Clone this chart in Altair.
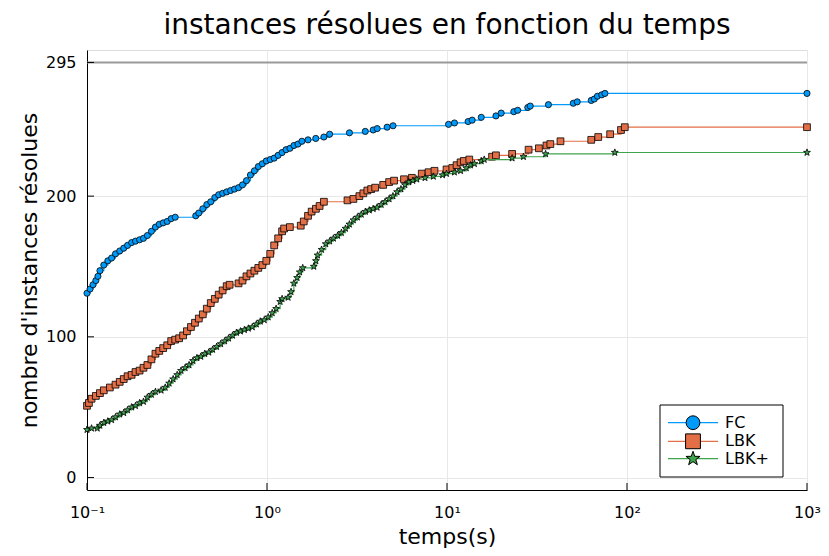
import altair as alt
import pandas as pd

# ---------------- data ----------------
series = ["FC", "LBK", "LBK+"]
colors = ["#009AFA", "#E36F47", "#3EA44E"]
STAR = ("M0,-1L0.235,-0.324L0.951,-0.309L0.380,0.124L0.588,0.809L0,0.4"
        "L-0.588,0.809L-0.380,0.124L-0.951,-0.309L-0.235,-0.324Z")
shapes = ["circle", "square", STAR]

fc_t = [0.100, 0.104, 0.108, 0.112, 0.115, 0.118, 0.124, 0.1305, 0.137, 0.144, 0.152, 0.160, 0.168,
        0.177, 0.186, 0.196, 0.206, 0.2165, 0.228, 0.240, 0.252, 0.265, 0.279, 0.2935, 0.309,
        0.402, 0.418, 0.440, 0.463, 0.487, 0.513, 0.539, 0.567, 0.597, 0.628, 0.6605, 0.695,
        0.731, 0.769, 0.809, 0.851, 0.895, 0.942, 0.991, 1.042, 1.096, 1.153, 1.213, 1.276,
        1.342, 1.412, 1.486, 1.563, 1.69, 1.866, 2.07, 2.228, 2.871, 3.516, 3.891, 4.094, 4.65,
        5.014, 10.2, 11.0, 13.1, 13.8, 15.5, 18.7, 20.0, 23.5, 24.7, 28.1, 29.0, 36.6, 50.3,
        52.9, 63.3, 65.8, 68.5, 72.4, 75.4, 1000]
fc_n = [131, 134, 137, 140, 143, 147, 151, 154, 156, 159, 161, 163, 165,
        167, 168, 169, 170, 172, 175, 178, 180, 181, 182, 184, 185,
        186, 188, 191, 194, 196, 199, 201, 202, 203, 204, 205, 206,
        208, 211, 215, 218, 221, 223, 225, 226, 227, 229, 231, 233,
        234, 236, 237, 239, 240, 241, 242, 244, 245, 246, 247, 248, 249,
        250, 251, 252, 253, 254, 256, 257, 259, 260, 261, 263, 264, 265, 266,
        267, 268, 269, 271, 272, 273, 273]

lbk_t = [0.100, 0.1025, 0.106, 0.112, 0.118, 0.124, 0.134, 0.144, 0.152, 0.160, 0.168, 0.177,
         0.186, 0.196, 0.206, 0.2165, 0.228, 0.240, 0.252, 0.265, 0.279, 0.2935, 0.309, 0.325,
         0.342, 0.359, 0.378, 0.398, 0.418, 0.440, 0.463, 0.487, 0.513, 0.539, 0.567, 0.597,
         0.62, 0.695, 0.731, 0.769, 0.809, 0.851, 0.895, 0.942, 0.991, 1.042, 1.096, 1.153,
         1.213, 1.245, 1.34, 1.54, 1.60, 1.69, 1.77, 1.87, 1.96, 2.07, 2.80, 3.02, 3.26, 3.43,
         3.61, 3.79, 3.99, 4.42, 4.77, 5.08, 5.77, 6.38, 7.24, 7.90, 8.52, 9.94, 10.7, 11.3,
         11.9, 12.4, 13.3, 17.8, 18.7, 23.0, 28.4, 32.4, 35.7, 37.5, 42.7, 63.3, 69.2, 80.6,
         92.6, 97.2, 1000]
lbk_n = [51, 53, 56, 58, 60, 62, 64, 66, 68, 70, 72, 73,
         75, 76, 78, 80, 84, 88, 90, 92, 94, 97, 98, 99,
         101, 104, 107, 110, 113, 116, 120, 124, 127, 130, 133, 136,
         137, 138, 140, 143, 145, 147, 149, 151, 154, 159, 165, 170,
         175, 177, 178, 179, 182, 186, 189, 191, 193, 196, 197, 198, 200, 202,
         204, 205, 206, 208, 210, 211, 212, 213, 216, 217, 218, 219, 220, 222,
         224, 225, 226, 228, 229, 230, 233, 234, 236, 237, 239, 240, 242, 244,
         247, 249, 249]

lbkp_t = [0.100, 0.106, 0.114, 0.118, 0.124, 0.1305, 0.137, 0.144, 0.152, 0.160, 0.168, 0.177,
          0.186, 0.196, 0.206, 0.2165, 0.228, 0.240, 0.258, 0.272, 0.286, 0.301, 0.317, 0.333,
          0.351, 0.369, 0.388, 0.408, 0.429, 0.451, 0.475, 0.499, 0.525, 0.553, 0.582, 0.612,
          0.644, 0.677, 0.712, 0.749, 0.788, 0.829, 0.873, 0.918, 0.966, 1.016, 1.069, 1.124,
          1.183, 1.213, 1.31, 1.36, 1.41, 1.47, 1.52, 1.58, 1.82, 1.87, 1.91, 2.01, 2.12, 2.23,
          2.34, 2.47, 2.59, 2.73, 2.87, 3.02, 3.18, 3.34, 3.52, 3.70, 3.89, 4.09, 4.31, 4.53,
          4.77, 5.01, 5.28, 5.55, 5.84, 6.14, 6.46, 6.80, 7.55, 8.40, 9.45, 9.94, 11.0, 11.9,
          12.8, 13.5, 14.2, 15.5, 16.1, 23.0, 26.6, 35.3, 85.6, 1000]
lbkp_n = [34, 35, 35, 37, 39, 40, 41, 43, 45, 46, 48, 50,
          51, 53, 54, 57, 59, 61, 62, 64, 67, 70, 73, 76,
          78, 80, 83, 85, 86, 88, 89, 91, 93, 95, 97, 99,
          101, 103, 104, 105, 106, 107, 109, 111, 112, 114, 117, 120,
          125, 127, 128, 132, 138, 142, 146, 149, 150, 154, 158, 162, 166, 168,
          170, 172, 174, 177, 180, 183, 185, 187, 189, 190, 191, 192, 194, 196,
          198, 200, 203, 205, 208, 210, 211, 212, 213, 214, 215, 216, 217, 218,
          220, 222, 223, 225, 226, 227, 228, 230, 231, 231]

x_ticks = [0.1, 1, 10, 100, 1000]
x_tick_labels = ["10⁻¹", "10⁰", "10¹", "10²", "10³"]
y_ticks = [0, 100, 200, 295]
ref_level = 295

title_text = "instances résolues en fonction du temps"
x_title = "temps(s)"
y_title = "nombre d'instances résolues"

# ---------------- styling ----------------
W, H = 720, 440
FONT = "DejaVu Sans"
GRID = "#e8e8e8"

xscale = alt.Scale(type="log", domain=[0.1, 1000], nice=False)
yscale = alt.Scale(domain=[-8.85, 303.85], nice=False, zero=False)

label_expr = "[" + ",".join("'%s'" % s for s in x_tick_labels) + "][round(log(datum.value)/LN10)+1]"

xaxis = alt.Axis(values=x_ticks, labelExpr=label_expr, grid=True, gridColor=GRID, gridWidth=1,
                 orient="bottom",
                 tickSize=0, labelPadding=14, labelFontSize=16, labelFont=FONT, labelColor="black",
                 labelFlush=False, labelOverlap=False, domainColor="black", domainWidth=1,
                 title=x_title, titleFontSize=22, titleFont=FONT, titleFontWeight="normal",
                 titleColor="black", titlePadding=6)
yaxis = alt.Axis(values=y_ticks, format="d", grid=True, gridColor=GRID, gridWidth=1,
                 orient="left",
                 tickSize=0, labelPadding=11, labelFontSize=16, labelFont=FONT, labelColor="black",
                 labelFlush=False, labelOverlap=False, domainColor="black", domainWidth=1,
                 title=y_title, titleFontSize=22, titleFont=FONT, titleFontWeight="normal",
                 titleColor="black", titlePadding=4)

X = alt.X("t:Q", scale=xscale, axis=xaxis)
Y = alt.Y("n:Q", scale=yscale, axis=yaxis)

layers = []

# reference line at 295
layers.append(alt.Chart(pd.DataFrame({"n": [ref_level]})).mark_rule(color="#9a9a9a", strokeWidth=2).encode(y=Y))

data = {"FC": (fc_t, fc_n), "LBK": (lbk_t, lbk_n), "LBK+": (lbkp_t, lbkp_n)}
sizes = {"FC": 38, "LBK": 46, "LBK+": 52}
for name, col, shp in zip(series, colors, shapes):
    t, n = data[name]
    sub = pd.DataFrame({"t": t, "n": n})
    layers.append(alt.Chart(sub).mark_line(interpolate="step-after", strokeWidth=1.2, color=col).encode(x=X, y=Y))
    layers.append(alt.Chart(sub).mark_point(filled=True, shape=shp, size=sizes[name], fill=col,
                                            stroke="black", strokeWidth=0.8, opacity=1,
                                            fillOpacity=1).encode(x=X, y=Y))

# inward ticks
layers.append(alt.Chart(pd.DataFrame({"t": x_ticks})).mark_rule(color="black", strokeWidth=1).encode(
    x=X, y=alt.value(H), y2=alt.value(H - 7)))
layers.append(alt.Chart(pd.DataFrame({"n": y_ticks})).mark_rule(color="black", strokeWidth=1).encode(
    y=Y, x=alt.value(0), x2=alt.value(7)))

# legend (manual, bottom-right inside the plot)
one = pd.DataFrame({"a": [0]})
layers.append(alt.Chart(one).mark_rect(fill="white", stroke="black", strokeWidth=1).encode(
    x=alt.value(W - 147), x2=alt.value(W - 24), y=alt.value(H - 85), y2=alt.value(H - 13)))
leg_y = [H - 67.3, H - 48.7, H - 31.3]
leg_sizes = {"FC": 190, "LBK": 220, "LBK+": 220}
for name, col, shp, yy in zip(series, colors, shapes, leg_y):
    lab = pd.DataFrame({"label": [name]})
    layers.append(alt.Chart(lab).mark_rule(color=col, strokeWidth=1.2).encode(
        x=alt.value(W - 139), x2=alt.value(W - 89), y=alt.value(yy)))
    layers.append(alt.Chart(lab).mark_point(filled=True, shape=shp, size=leg_sizes[name], fill=col,
                                            stroke="black", strokeWidth=1, opacity=1).encode(
        x=alt.value(W - 114), y=alt.value(yy)))
    layers.append(alt.Chart(lab).mark_text(align="left", baseline="middle", fontSize=16, font=FONT,
                                           color="black").encode(
        x=alt.value(W - 82), y=alt.value(yy), text="label:N"))

chart = alt.layer(*layers).properties(
    width=W, height=H,
    autosize=alt.AutoSizeParams(type="none"),
    padding={"left": 79, "top": 42, "right": 14, "bottom": 58},
    title=alt.TitleParams(title_text, fontSize=28, font=FONT, fontWeight="normal", color="black",
                          anchor="middle", offset=10),
).configure_view(stroke=None).configure(background="white")

chart.save("out.html", embed_options={"renderer": "svg", "actions": False})
